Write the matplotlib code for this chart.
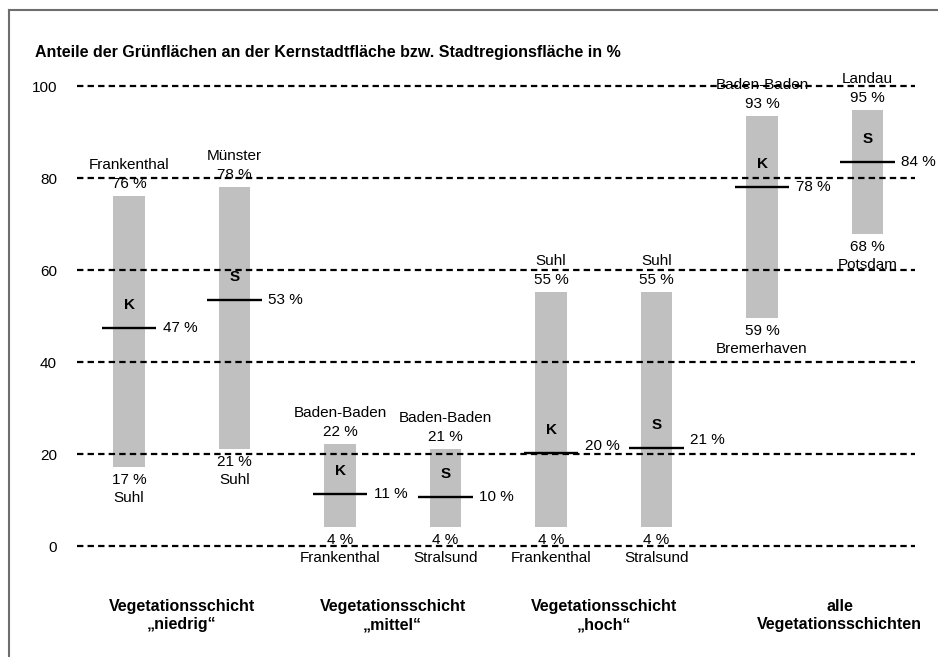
import numpy as np
import matplotlib
matplotlib.use("Agg")
import matplotlib.pyplot as plt
from matplotlib.lines import Line2D

plt.rcParams["font.family"] = ["Liberation Sans", "DejaVu Sans"]
plt.rcParams["lines.scale_dashes"] = False

TITLE = "Anteile der Grünflächen an der Kernstadtfläche bzw. Stadtregionsfläche in %"

groups = [
    "Vegetationsschicht\n„niedrig“",
    "Vegetationsschicht\n„mittel“",
    "Vegetationsschicht\n„hoch“",
    "alle\nVegetationsschichten",
]
series = ["K", "S", "K", "S", "K", "S", "K", "S"]

# bar extents as drawn in the picture
bar_low = [17.2, 21.1, 4.1, 4.1, 4.1, 4.1, 49.6, 67.9]
bar_high = [76.2, 78.1, 22.2, 21.1, 55.3, 55.3, 93.6, 94.9]
bar_median = [47.4, 53.5, 11.4, 10.6, 20.2, 21.3, 78.1, 83.6]

# printed values and cities
low_pct = [17, 21, 4, 4, 4, 4, 59, 68]
high_pct = [76, 78, 22, 21, 55, 55, 93, 95]
median_pct = [47, 53, 11, 10, 20, 21, 78, 84]
low_city = ["Suhl", "Suhl", "Frankenthal", "Stralsund",
            "Frankenthal", "Stralsund", "Bremerhaven", "Potsdam"]
high_city = ["Frankenthal", "Münster", "Baden-Baden", "Baden-Baden",
             "Suhl", "Suhl", "Baden-Baden", "Landau"]

yticks = [0, 20, 40, 60, 80, 100]

W, H = 938, 657
fig = plt.figure(figsize=(W / 100, H / 100), dpi=100)
ax = fig.add_axes([77 / W, 111 / H, (915 - 77) / W, 459.5 / H])

x = np.arange(len(series))
bar_w = 0.303
half_line = 0.256

ax.bar(x, np.array(bar_high) - np.array(bar_low), bottom=bar_low,
       width=bar_w, color="#c0c0c0", zorder=1)

for y in yticks:
    ax.axhline(y, color="black", lw=1.6, dashes=(4.6, 3.0), zorder=2,
               clip_on=False)

fs = 11
for i in range(len(series)):
    xi = x[i]
    # median line and label
    ax.plot([xi - half_line, xi + half_line], [bar_median[i]] * 2,
            color="black", lw=1.7, solid_capstyle="butt", zorder=3)
    near_grid = abs(bar_median[i] - round(bar_median[i] / 20) * 20) < 1.5
    ax.annotate(f"{median_pct[i]} %", (xi + half_line, bar_median[i]),
                xytext=(5, 5.5 if near_grid else 0), textcoords="offset points",
                ha="left", va="center", fontsize=fs)
    # series letter
    ax.annotate(series[i], (xi, bar_median[i]), xytext=(0, 16.5),
                textcoords="offset points", ha="center", va="center",
                fontsize=11, fontweight="bold")
    # top labels
    ax.annotate(f"{high_pct[i]} %", (xi, bar_high[i]), xytext=(0, 8.6),
                textcoords="offset points", ha="center", va="center", fontsize=fs)
    ax.annotate(high_city[i], (xi, bar_high[i]), xytext=(0, 22.5),
                textcoords="offset points", ha="center", va="center", fontsize=fs)
    # bottom labels
    ax.annotate(f"{low_pct[i]} %", (xi, bar_low[i]), xytext=(0, -9.4),
                textcoords="offset points", ha="center", va="center", fontsize=fs)
    ax.annotate(low_city[i], (xi, bar_low[i]), xytext=(0, -22.3),
                textcoords="offset points", ha="center", va="center", fontsize=fs)

for g, label in enumerate(groups):
    gx = (x[2 * g] + x[2 * g + 1]) / 2
    # the last caption sits a little right of its pair of bars
    dx = 18 if g == len(groups) - 1 else 0
    ax.annotate(label, (gx, 0), xytext=(dx, -50), textcoords="offset points",
                ha="center", va="center", fontsize=11.5, fontweight="bold",
                linespacing=1.3)

ax.set_xlim((77 - 129) / 105.5, (915 - 129) / 105.5)
ax.set_ylim(0, 100)
ax.set_yticks(yticks)
ax.set_xticks([])
ax.tick_params(axis="y", length=0, pad=14.4, labelsize=fs)
for s in ax.spines.values():
    s.set_visible(False)
ax.patch.set_visible(False)

fig.text(35 / W, 1 - 53 / H, TITLE, fontsize=11.5, fontweight="bold",
         ha="left", va="center")

# frame lines (top and left only)
frame_col = "#6e6e6e"
fig.add_artist(Line2D([9 / W, 1], [1 - 10 / H] * 2, color=frame_col, lw=1.5,
                      transform=fig.transFigure))
fig.add_artist(Line2D([9 / W] * 2, [0, 1 - 10 / H], color=frame_col, lw=1.5,
                      transform=fig.transFigure))

fig.savefig("out.png", dpi=100)
